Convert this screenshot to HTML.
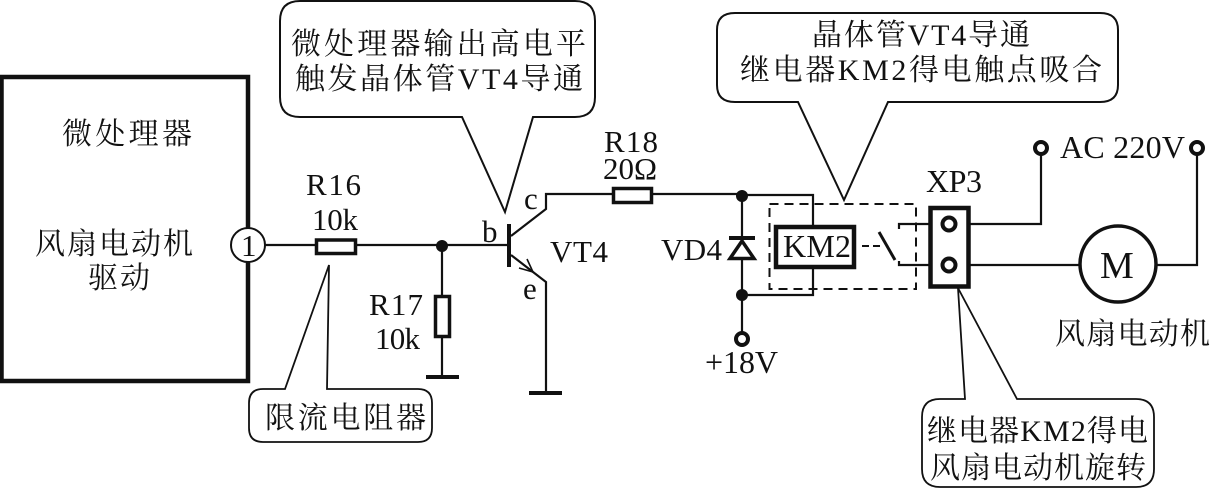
<!DOCTYPE html>
<html><head><meta charset="utf-8"><style>
html,body{margin:0;padding:0;background:#fff}
svg{display:block}
text{font-family:"Liberation Serif","Noto Serif CJK SC",serif;fill:#111}
.t{font-size:30px}.l{font-size:31px}.s{font-size:32px}
</style></head><body>
<svg width="1211" height="489" viewBox="0 0 1211 489" xmlns="http://www.w3.org/2000/svg">
<g fill="none" stroke="#111" stroke-width="2.2">
<!-- MCU -->
<rect x="1.5" y="77" width="246.5" height="304" stroke-width="4.5"/>
<circle cx="248" cy="245" r="17" fill="#fff" stroke-width="2"/>
<!-- callouts -->
<path d="M300 117Q280 117 280 97V21Q280 1 300 1H575Q595 1 595 21V97Q595 117 575 117H533L505 212L462 117Z" stroke-width="2"/>
<path d="M735 102Q717 102 717 85V30Q717 13 735 13H1100Q1118 13 1118 30V85Q1118 102 1100 102H888L844 200L798 102Z" stroke-width="2"/>
<path d="M263 389Q249 389 249 403V428Q249 442 263 442H418Q432 442 432 428V403Q432 389 418 389H327L329 265L285 389Z" stroke-width="1.8"/>
<path d="M940 399Q922 399 922 417V469Q922 487 940 487H1136Q1154 487 1154 469V417Q1154 399 1136 399H1017L958 288L965 399Z" stroke-width="1.8"/>
<!-- wires -->
<path d="M265 245H315M356 245H509"/>
<path d="M442 246V296M442 337V377"/>
<path d="M511 236L546 209V194H613M652 194H742V339"/>
<path d="M511 255L546 282V393"/>
<path d="M742 195H813V227M813 267V295H742"/>
<path d="M527 259L533 272L519 268" stroke-width="1.6"/>
<!-- resistors -->
<rect x="316.5" y="240" width="39" height="13.5" stroke-width="3.5"/>
<rect x="435.5" y="296.5" width="14" height="40" stroke-width="3.5"/>
<rect x="613.5" y="188.5" width="38" height="14" stroke-width="3.5"/>
<!-- grounds -->
<path d="M426 377H459M529 393H562" stroke-width="4"/>
<path d="M509 224V267" stroke-width="4"/>
<!-- diode -->
<path d="M729 238H755" stroke-width="4"/>
<path d="M742 241L754 258.500H730Z" fill="#fff" stroke-width="3.500"/>
<!-- relay -->
<rect x="769.500" y="204" width="146.500" height="85" stroke-width="2" stroke-dasharray="9 6"/>
<rect x="776" y="227" width="78" height="40" stroke-width="4.500"/>
<path d="M862 246H880" stroke-width="2" stroke-dasharray="7 4"/>
<path d="M879 232L895 260" stroke-width="3"/>
<path d="M899 229V224H930M899 261V265H930"/>
<!-- XP3 -->
<rect x="930.500" y="208" width="38" height="78.500" stroke-width="4.500"/>
<circle cx="949" cy="224" r="6.500" stroke-width="4"/>
<circle cx="949" cy="265" r="6.500" stroke-width="4"/>
<path d="M970 224H1041V154M970 265H1080M1156 265H1197V154"/>
<circle cx="1118" cy="264" r="38" stroke-width="3.500"/>
<circle cx="1041" cy="148" r="6" stroke-width="4"/>
<circle cx="1197" cy="148" r="6" stroke-width="4"/>
<circle cx="742" cy="339" r="6" fill="#fff" stroke-width="4"/>
</g>
<g fill="#111">
<circle cx="442" cy="246" r="6"/><circle cx="742" cy="196" r="6"/><circle cx="742" cy="295" r="6"/>
</g>
<!-- CJK labels -->
<text class="t" x="62" y="144" textLength="130">微处理器</text>
<text class="t" x="35" y="254" textLength="158">风扇电动机</text>
<text class="t" x="88" y="288" textLength="62">驱动</text>
<text class="t" x="291" y="54" textLength="295">微处理器输出高电平</text>
<text class="t" x="295" y="89" textLength="288">触发晶体管VT4导通</text>
<text class="t" x="812" y="45" textLength="218">晶体管VT4导通</text>
<text class="t" x="740" y="80" textLength="362">继电器KM2得电触点吸合</text>
<text class="t" x="265" y="428" textLength="161">限流电阻器</text>
<text class="t" x="927" y="441" textLength="221">继电器KM2得电</text>
<text class="t" x="930" y="478" textLength="216">风扇电动机旋转</text>
<text class="t" x="1055" y="344" textLength="155">风扇电动机</text>
<!-- Latin labels -->
<text class="l" x="306" y="195" textLength="55">R16</text>
<text class="l" x="312" y="230" textLength="46">10k</text>
<text class="l" x="369" y="315" textLength="54">R17</text>
<text class="l" x="375" y="349" textLength="45">10k</text>
<text class="l" x="482" y="242">b</text>
<text class="l" x="524" y="209">c</text>
<text class="l" x="523" y="299">e</text>
<text class="l" x="550" y="262" textLength="58">VT4</text>
<text class="l" x="604" y="152" textLength="54">R18</text>
<text class="l" x="603" y="179" textLength="54">20Ω</text>
<text class="l" x="661" y="260" textLength="61">VD4</text>
<text class="s" x="783" y="257" textLength="68">KM2</text>
<text class="s" x="705" y="373" textLength="73">+18V</text>
<text class="s" x="926" y="192" textLength="56">XP3</text>
<text class="s" x="1060" y="158" textLength="125">AC 220V</text>
<text x="1100" y="278" style="font-size:38px" textLength="36">M</text>
<text class="l" x="241" y="256" textLength="15">1</text>
</svg>
</body></html>
